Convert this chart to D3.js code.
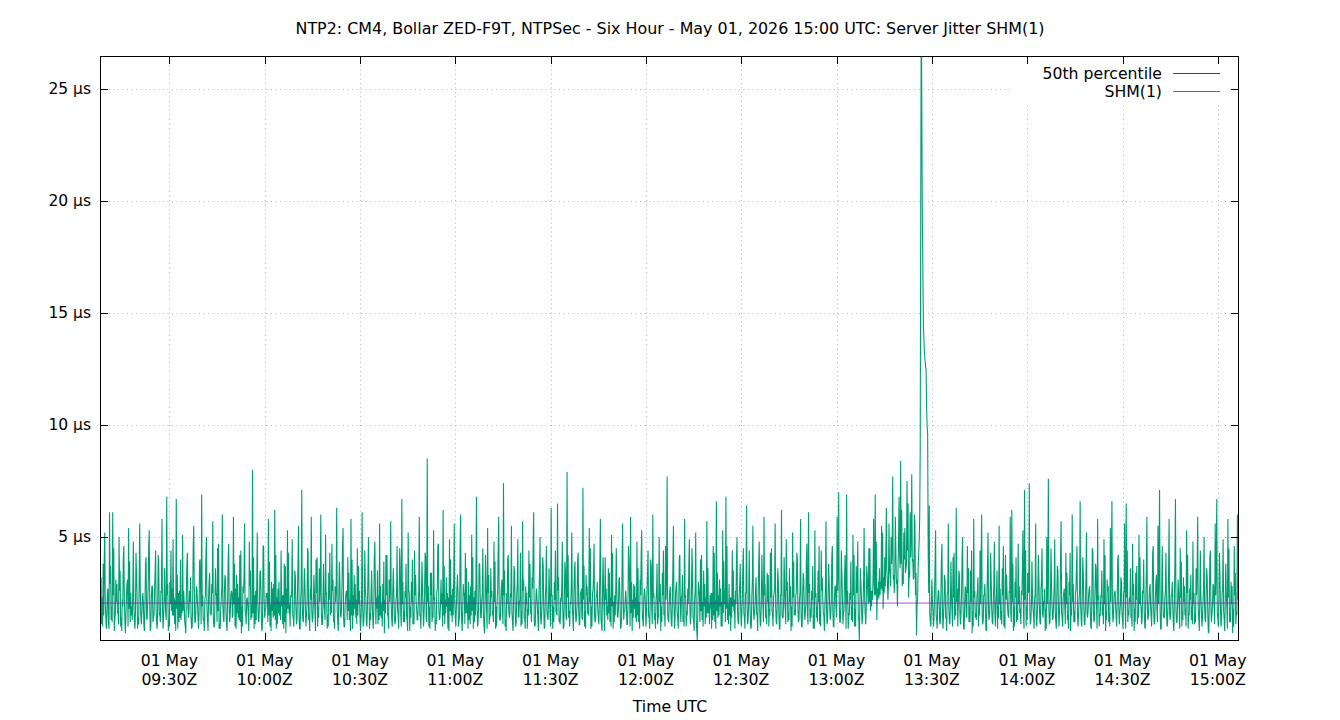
<!DOCTYPE html>
<html><head><meta charset="utf-8">
<script src="https://cdn.jsdelivr.net/npm/d3@7"></script>
<style>
html,body{margin:0;padding:0;background:#fff;}
svg{display:block;font-family:"DejaVu Sans",sans-serif;}
</style></head>
<body>
<svg id="c" width="1340" height="720"></svg>
<script>
// ---- data ----
const title = "NTP2: CM4, Bollar ZED-F9T, NTPSec - Six Hour - May 01, 2026 15:00 UTC: Server Jitter SHM(1)";
const startTime = "2026-05-01T09:08:10Z";
const stepSeconds = 30;          // spacing of the main samples
const percentile50 = 2.05;
const yTicks = [5, 10, 15, 20, 25];
const xTickTimes = ["09:30","10:00","10:30","11:00","11:30","12:00","12:30","13:00","13:30","14:00","14:30","15:00"];
const seriesNames = ["50th percentile", "SHM(1)"];
// samples on the 30 s grid (+0 s)
const jitter = [
2.4,1.1,3.8,5.2,0.9,2.7,6.1,1.3,6.1,0.8,3.1,1.6,5.0,1.0,2.2,4.6,0.7,2.9,5.4,1.2,
1.9,4.8,0.9,3.3,1.4,5.6,1.1,2.5,0.8,4.1,2.0,5.3,1.0,2.8,1.5,4.4,0.9,3.6,1.2,5.8,
1.4,2.3,6.8,0.8,3.0,1.7,4.9,1.1,6.7,0.9,2.6,1.3,5.1,2.1,0.7,4.3,1.6,3.2,1.0,5.5,
1.2,2.7,0.9,4.0,6.9,1.3,2.2,5.0,0.8,3.4,1.5,5.7,1.0,2.4,4.5,0.9,1.8,6.0,1.2,3.1,
0.8,4.7,1.6,2.5,5.9,1.0,3.3,1.4,4.2,0.7,2.8,5.6,1.1,2.0,4.8,1.3,8.0,0.9,2.6,5.2,
1.2,3.5,0.8,4.6,1.7,2.3,5.8,1.0,3.0,1.4,6.2,0.9,2.7,1.5,4.4,1.1,3.8,0.7,5.3,1.6,
2.4,4.9,1.0,3.2,1.3,5.5,0.9,7.1,1.2,2.9,1.6,4.3,0.8,5.9,1.4,2.5,4.0,1.0,3.6,6.0,
1.1,2.2,5.1,0.9,3.4,1.5,4.7,1.2,2.8,6.3,0.8,3.0,1.7,5.4,1.0,2.6,4.1,1.3,5.8,0.9,
3.3,1.4,4.5,2.0,0.8,6.1,1.2,2.7,1.0,5.0,1.6,3.5,0.9,4.8,2.3,1.1,5.6,1.4,2.9,0.7,
4.2,1.5,3.1,5.7,1.0,2.4,1.3,4.6,0.9,3.7,6.7,1.2,2.6,1.5,5.2,0.8,3.0,1.1,4.4,2.1,
1.3,5.9,0.9,2.8,1.6,4.1,8.5,1.0,3.4,1.2,5.3,0.8,2.5,4.7,1.4,2.0,6.2,1.1,3.2,0.9,
4.9,1.5,2.7,5.6,1.0,3.3,1.3,6.0,0.8,2.4,4.3,1.6,3.0,1.1,5.1,0.9,2.6,6.8,1.2,3.8,
1.4,4.5,0.7,2.9,5.4,1.1,3.6,1.5,4.8,0.9,2.2,5.9,1.3,3.1,7.4,1.0,2.5,4.2,1.6,5.5,
0.8,3.4,1.2,4.9,2.1,1.0,5.7,1.4,2.8,0.9,4.4,1.6,3.2,6.1,1.1,2.4,0.8,5.0,1.5,3.7,
1.0,4.6,1.3,2.6,6.3,0.9,3.0,1.7,6.5,1.2,2.3,4.8,1.0,3.5,7.9,1.4,2.1,5.2,0.8,3.9,
1.5,4.3,1.1,2.7,7.2,1.0,3.3,1.6,5.4,0.9,2.5,4.7,1.3,3.0,1.1,5.8,0.8,2.8,4.1,1.5,
3.6,1.2,5.1,0.9,2.4,4.5,1.4,3.2,1.0,5.6,1.7,2.6,1.1,4.0,5.9,0.8,2.9,1.4,4.8,1.2,
3.1,5.3,1.0,2.5,1.6,4.4,0.9,3.7,6.0,1.3,2.2,1.1,5.0,0.8,3.4,1.5,4.6,7.7,1.2,2.8,
1.0,5.5,1.4,3.0,0.9,4.2,2.3,1.2,5.8,1.0,2.7,4.9,1.5,3.3,0.8,5.2,0.4,2.6,4.0,1.3,
3.5,1.1,5.7,1.6,2.4,0.9,4.6,1.2,6.6,1.4,3.1,1.0,5.3,2.0,6.8,1.3,2.9,0.8,4.4,1.7,
2.6,5.0,1.1,3.8,1.5,4.5,0.9,6.4,1.3,2.5,1.0,5.5,1.6,3.2,0.8,4.8,1.2,2.8,5.9,1.4,
3.4,1.0,4.3,1.7,2.3,5.6,1.1,3.0,0.9,6.2,1.4,2.7,4.9,1.2,3.6,0.8,5.2,1.5,2.4,4.0,
1.3,5.8,1.0,3.1,1.6,4.7,6.1,1.2,2.6,0.9,5.3,1.4,3.5,1.1,4.4,2.2,0.8,5.7,1.3,3.0,
1.5,4.6,1.0,2.8,5.9,7.0,1.2,3.4,1.6,4.2,6.9,0.9,2.5,1.3,5.1,1.0,3.7,4.8,0.4,2.9,
1.4,5.4,1.1,3.2,4.5,1.7,2.6,5.8,6.9,1.3,3.0,2.4,5.5,1.8,4.1,6.3,2.2,3.6,5.0,7.7,
2.5,4.4,1.9,6.8,8.4,2.8,5.2,3.4,7.5,2.3,6.1,7.8,3.1,5.6,0.6,3.6,5.9,29.0,16.8,13.2,
12.5,9.6,6.4,1.0,2.2,1.4,5.3,0.9,2.6,1.2,4.7,1.5,3.0,0.8,5.6,1.1,2.4,4.1,1.3,6.3,
1.0,3.3,1.6,5.0,0.9,2.7,4.6,1.2,3.5,0.7,5.8,1.4,2.3,1.0,4.4,6.0,1.3,2.9,0.8,5.2,
1.5,3.1,1.1,4.8,2.0,0.9,5.5,1.3,3.6,1.0,4.2,2.5,1.4,5.9,6.2,0.8,3.0,1.2,4.7,1.6,
2.6,5.3,7.1,1.0,3.4,7.4,1.3,2.4,0.9,5.6,1.5,3.2,1.1,4.5,2.1,0.8,5.0,7.6,1.2,2.8,
1.4,4.9,0.9,3.5,1.6,5.7,1.0,2.7,4.3,1.3,3.0,0.8,6.0,1.2,2.5,4.6,1.5,6.6,1.0,3.3,
1.1,5.2,1.7,2.8,0.9,4.4,1.3,3.6,5.8,1.0,2.4,1.5,4.9,0.8,3.1,1.2,5.4,6.6,1.4,2.6,
1.0,4.2,1.6,3.0,0.9,5.6,6.5,1.2,2.3,1.4,4.7,0.8,3.4,1.1,5.1,2.0,1.3,4.0,0.9,5.9,
1.5,2.9,1.0,4.6,1.3,3.3,5.5,7.1,0.9,2.6,1.4,4.3,1.1,5.8,1.6,3.0,0.8,6.7,1.2,2.5,
4.5,1.0,3.2,1.5,5.3,0.9,2.7,1.3,4.8,1.1,3.6,5.9,0.8,2.4,1.4,5.0,1.2,3.1,0.7,4.4,
1.6,2.8,5.6,6.7,1.0,3.4,1.3,4.9,0.8,2.5,5.8,1.2,3.0,0.7,4.6,1.1,6.0,7.3
];
// samples 10 s after each of the above
const jitterA = [
1.8,2.3,1.5,2.0,1.6,1.2,2.9,1.9,2.4,1.3,2.1,1.7,2.6,1.4,1.9,2.2,1.5,3.1,1.8,2.5,
1.3,2.0,1.7,2.4,1.1,2.7,1.6,1.9,2.2,1.4,2.8,1.8,2.3,1.2,2.5,1.7,2.0,1.5,2.6,1.9,
2.2,1.6,2.4,1.3,2.0,2.7,1.5,2.2,1.8,2.5,1.4,2.1,1.7,1.2,2.3,1.9,2.6,1.4,2.0,2.8,
1.7,2.1,1.5,2.6,1.9,1.3,2.4,1.8,2.2,1.6,2.9,1.4,2.0,2.5,1.7,1.1,2.3,1.9,2.6,1.5,
2.1,1.8,2.4,1.4,2.0,2.7,1.6,2.3,1.2,1.9,2.5,1.7,2.2,1.5,2.8,2.0,1.6,2.4,1.3,2.1,
1.9,2.6,1.4,2.2,1.8,2.5,1.5,2.0,1.7,2.9,1.3,2.3,1.6,2.1,1.9,2.4,1.2,2.7,1.8,2.0,
2.3,1.5,2.1,1.8,2.6,1.4,2.2,1.9,2.4,1.6,2.0,1.3,2.7,1.7,2.2,1.5,2.5,1.9,2.1,1.6,
2.0,1.7,2.4,1.5,2.2,1.9,2.6,1.3,2.1,1.8,2.3,1.6,2.8,1.4,2.0,2.5,1.7,2.2,1.5,2.4,
1.8,2.2,1.5,2.6,1.4,2.0,1.7,2.3,1.9,2.5,1.3,2.1,1.6,2.8,1.8,2.4,1.5,2.0,1.7,2.2,
2.4,1.6,2.1,1.9,2.7,1.4,2.2,1.8,2.5,1.5,2.0,1.7,2.3,1.3,2.6,1.9,2.1,1.6,2.4,1.8,
2.0,1.5,2.3,1.8,2.6,1.4,2.1,1.9,2.4,1.6,2.2,1.3,2.7,1.7,2.0,2.5,1.5,2.2,1.9,2.3,
1.7,2.4,1.5,2.1,1.9,2.6,1.4,2.2,1.8,2.5,1.6,2.0,1.3,2.8,1.7,2.3,1.5,2.1,1.9,2.4,
2.2,1.6,2.0,1.8,2.5,1.4,2.3,1.7,2.1,1.9,2.6,1.5,2.2,1.8,2.4,1.3,2.0,1.7,2.5,1.6,
2.1,1.9,2.4,1.5,2.2,1.7,2.6,1.4,2.0,1.8,2.3,1.6,2.7,1.3,2.1,1.9,2.5,1.5,2.2,1.8,
2.3,1.7,2.0,1.5,2.4,1.9,2.2,1.6,2.6,1.4,2.1,1.8,2.5,1.5,2.3,1.7,2.0,1.9,2.4,1.6,
2.0,1.8,2.5,1.4,2.2,1.7,2.4,1.6,2.1,1.9,2.6,1.5,2.3,1.8,2.0,1.4,2.5,1.7,2.2,1.9,
1.6,2.3,1.9,2.1,1.5,2.6,1.8,2.2,1.4,2.4,1.7,2.0,1.9,2.5,1.6,2.2,1.8,2.3,1.5,2.1,
2.4,1.7,2.2,1.9,2.6,1.5,2.0,1.8,2.3,1.6,2.5,1.4,2.1,1.9,2.4,1.7,2.2,1.6,2.0,1.8,
2.2,1.9,2.5,1.6,2.1,1.8,2.4,1.5,2.3,1.7,2.0,1.9,2.6,1.4,2.2,1.3,1.8,2.4,1.7,2.1,
1.9,2.3,1.6,2.0,1.8,2.5,1.5,2.2,1.7,2.4,1.9,2.1,1.6,2.6,1.8,2.0,1.5,2.3,1.9,2.2,
2.0,1.7,2.4,1.8,2.2,1.6,2.5,1.9,2.1,1.5,2.3,1.8,2.0,1.6,2.6,1.7,2.2,1.9,2.4,1.5,
2.1,1.8,2.3,1.6,2.5,1.9,2.2,1.7,2.4,1.5,2.0,1.8,2.6,1.6,2.1,1.9,2.3,1.7,2.5,1.8,
2.2,1.6,2.4,1.9,2.0,1.7,2.5,1.8,2.2,1.5,2.3,1.9,2.1,1.7,2.6,1.6,2.0,1.8,2.4,1.9,
2.1,1.7,2.3,1.8,2.6,2.2,1.9,2.4,1.7,2.5,2.0,1.6,2.2,1.9,2.4,1.8,2.6,1.5,1.9,2.3,
2.0,2.3,1.8,2.5,2.1,2.6,2.2,2.9,2.4,2.7,2.3,3.0,2.6,3.2,2.8,3.5,2.9,3.3,3.8,3.1,
3.4,2.9,3.6,4.2,3.8,3.3,4.0,3.6,4.4,3.5,4.1,3.9,3.2,2.4,2.0,4.2,9.0,24.0,14.5,12.9,
10.8,4.5,1.6,1.9,1.7,2.3,1.5,2.1,1.8,2.4,1.6,2.2,1.4,2.5,1.9,2.0,1.7,2.3,1.8,2.1,
2.2,1.6,2.4,1.8,2.0,1.5,2.5,1.9,2.1,1.7,2.3,1.6,2.6,1.8,2.0,1.5,2.4,1.9,2.2,1.7,
2.3,1.8,2.1,1.6,2.5,1.9,2.0,1.7,2.4,1.5,2.2,1.8,2.6,1.6,2.1,1.9,2.3,1.7,2.0,1.8,
2.4,1.6,2.2,1.9,2.5,1.7,2.0,1.8,2.3,1.5,2.1,1.9,2.6,1.6,2.2,1.8,2.0,1.7,2.4,1.9,
2.1,1.7,2.5,1.8,2.2,1.6,2.3,1.9,2.0,1.5,2.4,1.8,2.1,1.7,2.6,1.6,2.2,1.9,2.3,1.8,
2.0,1.6,2.4,1.9,2.1,1.7,2.5,1.8,2.2,1.5,2.3,1.9,2.0,1.7,2.6,1.6,2.1,1.8,2.4,1.9,
2.2,1.8,2.0,1.6,2.5,1.9,2.3,1.7,2.1,1.5,2.4,1.8,2.2,1.6,2.0,1.9,2.6,1.7,2.3,1.8,
2.1,1.9,2.4,1.6,2.2,1.8,2.0,1.7,2.5,1.5,2.3,1.9,2.1,1.6,2.4,1.8,2.2,1.7,2.0,1.9,
2.3,1.7,2.1,1.8,2.5,1.6,2.2,1.9,2.0,1.5,2.4,1.8,2.3,1.6,2.1,1.9,2.6,1.7,2.2,1.8,
2.0,1.9,2.4,1.6,2.2,1.8,2.5,1.7,2.1,1.9,2.3,1.6,2.0,1.8,2.4,1.7,2.2
];
// samples 20 s after each main sample
const jitterB = [
3.2,1.0,4.1,1.4,2.6,0.9,3.7,1.2,4.5,1.6,2.9,1.1,3.5,0.8,4.0,1.3,2.4,1.0,3.9,1.5,
2.7,1.2,4.3,0.9,3.1,1.5,2.2,1.0,3.8,1.3,4.6,0.8,2.8,1.4,3.4,1.1,4.2,1.6,2.5,0.9,
3.6,1.3,2.9,1.0,4.4,1.5,2.3,0.8,3.3,1.2,4.0,1.6,2.6,1.0,3.7,1.4,2.1,0.9,4.5,1.2,
2.8,1.5,3.9,1.1,2.4,0.8,4.2,1.3,3.0,1.6,2.5,1.0,3.6,1.2,4.7,0.9,2.7,1.4,3.3,1.1,
4.0,1.2,2.6,1.5,3.8,0.9,2.9,1.3,4.4,1.0,3.2,1.6,2.3,0.8,3.5,1.4,4.1,1.1,2.8,1.3,
3.4,1.0,4.6,1.4,2.5,1.2,3.9,0.8,2.7,1.5,4.2,1.1,3.0,1.3,2.4,0.9,3.7,1.6,4.3,1.0,
2.6,1.4,3.5,1.1,4.0,0.9,2.8,1.3,3.6,1.0,4.5,1.5,2.2,1.2,3.3,0.8,4.1,1.4,2.9,1.1,
3.8,1.3,2.5,1.0,4.3,1.6,3.1,0.9,2.7,1.2,3.9,1.4,4.6,1.0,2.4,1.3,3.4,0.8,4.0,1.5,
2.9,1.1,3.7,1.4,2.3,1.0,4.4,1.2,3.2,0.9,2.6,1.5,4.1,1.1,3.5,1.3,2.8,1.0,3.9,1.6,
4.2,0.9,2.7,1.3,3.6,1.1,2.4,1.5,4.5,1.0,3.0,1.2,3.8,0.8,2.5,1.4,4.0,1.1,3.3,1.3,
2.6,1.5,3.9,1.0,4.3,1.2,2.8,0.9,3.4,1.4,2.3,1.1,4.6,1.3,3.1,1.0,3.7,1.6,2.5,0.8,
4.0,1.2,3.2,1.4,2.7,1.0,4.4,1.3,2.9,1.1,3.6,0.9,2.4,1.5,4.1,1.2,3.0,1.0,3.8,1.4,
2.5,1.1,4.2,0.9,3.3,1.5,2.6,1.2,3.9,1.0,4.5,1.3,2.8,1.1,3.5,0.8,4.0,1.4,2.3,1.2,
3.7,1.0,2.9,1.4,4.3,1.1,3.1,0.9,2.5,1.5,3.8,1.2,4.6,1.0,2.7,1.3,3.4,1.1,4.1,0.9,
2.8,1.4,3.6,1.0,2.4,1.2,4.4,1.5,3.2,1.1,2.6,0.9,3.9,1.3,4.2,1.0,2.9,1.4,3.5,1.2,
4.0,1.1,2.5,1.3,3.7,0.9,2.8,1.5,4.5,1.0,3.3,1.2,2.4,1.4,3.8,1.1,4.1,0.8,2.7,1.3,
3.4,1.0,4.3,1.2,2.6,1.5,3.1,0.9,3.9,1.3,2.3,1.1,4.6,1.0,3.0,1.4,2.8,1.2,3.6,0.9,
4.2,1.3,2.7,1.0,3.5,1.4,4.0,1.1,2.5,0.9,3.8,1.5,2.9,1.2,4.4,1.0,3.2,1.3,2.6,1.1,
3.9,0.9,2.8,1.4,4.1,1.2,3.3,1.0,2.4,1.5,3.7,1.1,4.5,1.3,2.6,0.8,3.0,1.2,4.2,1.0,
2.9,1.4,3.6,1.1,2.5,1.3,4.3,0.9,3.4,1.5,2.7,1.0,3.9,1.2,4.6,1.1,2.3,1.4,3.5,0.9,
4.0,1.2,2.8,1.0,3.7,1.4,2.5,1.1,4.4,0.9,3.1,1.3,2.6,1.5,3.8,1.0,4.2,1.2,2.9,1.1,
3.3,1.5,4.5,1.0,2.7,1.2,3.6,0.9,2.4,1.4,4.1,1.1,3.0,1.3,2.8,1.0,3.9,1.5,4.3,1.2,
2.6,1.0,3.4,1.3,4.0,1.1,2.9,1.4,3.7,0.9,2.5,1.2,4.6,1.0,3.2,1.5,2.7,1.1,3.8,1.3,
4.1,1.0,2.8,1.4,3.5,1.2,4.4,1.1,3.0,0.9,2.6,1.5,3.9,1.2,4.2,1.0,2.5,1.3,3.6,1.1,
2.9,1.6,3.7,2.0,4.5,1.9,3.3,2.4,4.8,2.2,3.6,2.7,5.2,2.5,4.1,3.0,5.6,2.8,4.4,3.3,
5.9,3.1,4.7,3.6,6.2,2.9,5.4,3.8,6.5,3.2,5.0,4.0,6.0,3.4,2.2,4.8,20.0,19.0,13.8,12.6,
10.0,2.5,1.2,3.1,1.0,3.8,1.3,2.6,1.1,4.0,0.9,3.3,1.4,2.5,1.2,3.9,1.0,4.3,1.5,2.7,
3.5,1.1,4.1,0.9,2.8,1.4,3.6,1.2,4.4,1.0,2.6,1.3,3.2,1.5,4.0,1.1,2.4,0.9,3.7,1.3,
4.3,1.2,2.9,1.0,3.5,1.4,2.7,1.1,4.6,0.9,3.3,1.5,2.5,1.2,3.8,1.0,4.1,1.3,2.8,1.1,
3.6,0.9,4.4,1.3,2.6,1.1,3.9,1.5,2.4,1.0,4.2,1.2,3.1,1.4,2.7,0.9,3.5,1.1,4.5,1.3,
2.8,1.2,3.7,1.0,4.0,1.4,2.5,1.1,3.4,0.9,4.3,1.5,2.9,1.2,3.6,1.0,2.6,1.3,4.1,1.1,
3.3,1.4,2.7,1.0,4.5,1.2,3.8,0.9,2.4,1.5,3.5,1.1,4.2,1.3,2.8,1.0,3.9,1.2,2.5,1.4,
4.0,1.1,3.2,1.3,2.6,0.9,4.4,1.5,3.6,1.0,2.9,1.2,3.7,1.4,4.1,1.1,2.5,1.0,3.4,1.3,
2.7,1.5,4.3,1.1,3.0,1.2,3.8,0.9,4.6,1.4,2.6,1.0,3.5,1.3,2.4,1.1,4.0,1.2,3.1,0.9,
3.9,1.3,2.8,1.0,4.2,1.5,3.3,1.1,2.5,1.2,3.7,1.4,4.4,1.0,2.7,1.3,3.6,0.8,4.1,1.2,
2.9,1.1,3.5,1.4,4.3,1.0,2.6,1.3,3.8,0.9,4.5,1.2,2.8,1.0,3.4,1.5,4.0
];
const yDomain = [0.357, 26.47];

// ---- drawing ----
const L = 100, R = 1239, T = 56, B = 641;
const svg = d3.select("#c");
const t0 = new Date(startTime).getTime();
const ms = stepSeconds * 1000;
const data = [];
jitter.forEach((v, i) => {
  data.push({t: new Date(t0 + i * ms), v});
  if (i < jitterA.length) data.push({t: new Date(t0 + i * ms + ms / 3), v: jitterA[i]});
  if (i < jitterB.length) data.push({t: new Date(t0 + i * ms + 2 * ms / 3), v: jitterB[i]});
});
const x = d3.scaleUtc().domain([data[0].t, data[data.length - 1].t]).range([L, R]);
const y = d3.scaleLinear().domain(yDomain).range([B, T]);
const tickDates = xTickTimes.map(s => new Date("2026-05-01T" + s + ":00Z"));

const green = "#009e73", purple = "#9400d3";

svg.append("defs").append("clipPath").attr("id", "clip")
  .append("rect").attr("x", L).attr("y", T).attr("width", R - L).attr("height", B - T);

// grid
const grid = svg.append("g").attr("stroke", "#b8b8b8").attr("stroke-width", 1).attr("stroke-dasharray", "1 3.5");
grid.selectAll("line.gy").data(yTicks).join("line")
  .attr("x1", L).attr("x2", R).attr("y1", d => Math.round(y(d)) + 0.5).attr("y2", d => Math.round(y(d)) + 0.5);
grid.selectAll("line.gx").data(tickDates).join("line")
  .attr("y1", T).attr("y2", B).attr("x1", d => Math.round(x(d)) + 0.5).attr("x2", d => Math.round(x(d)) + 0.5);

// legend background box hides the grid
svg.append("rect").attr("x", 1012).attr("y", T + 1).attr("width", 218).attr("height", 46).attr("fill", "#fff");

const plot = svg.append("g").attr("clip-path", "url(#clip)");
const line = d3.line().x(d => x(d.t)).y(d => y(d.v));
plot.append("path").datum(data).attr("d", line)
  .attr("fill", "none").attr("stroke", green).attr("stroke-width", 1.1).attr("stroke-linejoin", "miter");
plot.append("line").attr("x1", L).attr("x2", R)
  .attr("y1", y(percentile50)).attr("y2", y(percentile50))
  .attr("stroke", purple).attr("stroke-width", 1).attr("opacity", 0.7);

// border
svg.append("rect").attr("x", L + 0.5).attr("y", T + 0.5).attr("width", R - L - 1).attr("height", B - T - 1)
  .attr("fill", "none").attr("stroke", "#000").attr("stroke-width", 1);

// ticks (mirrored, inward)
const tk = svg.append("g").attr("stroke", "#000").attr("stroke-width", 1);
yTicks.forEach(d => {
  const yy = Math.round(y(d)) + 0.5;
  tk.append("line").attr("x1", L).attr("x2", L + 8).attr("y1", yy).attr("y2", yy);
  tk.append("line").attr("x1", R - 8).attr("x2", R).attr("y1", yy).attr("y2", yy);
});
tickDates.forEach(d => {
  const xx = Math.round(x(d)) + 0.5;
  tk.append("line").attr("x1", xx).attr("x2", xx).attr("y1", B).attr("y2", B - 8);
  tk.append("line").attr("x1", xx).attr("x2", xx).attr("y1", T).attr("y2", T + 8);
});

// labels
const fs = 15.7;
svg.append("g").selectAll("text").data(yTicks).join("text")
  .attr("x", 91).attr("y", d => y(d) + 5.5).attr("text-anchor", "end")
  .attr("font-size", 15.5).attr("fill", "#000").text(d => d + " µs");
const fDay = d3.utcFormat("%d %b"), fHM = d3.utcFormat("%H:%MZ");
const xl = svg.append("g").attr("font-size", fs).attr("fill", "#000").attr("text-anchor", "middle");
tickDates.forEach(d => {
  xl.append("text").attr("x", x(d)).attr("y", 666).text(fDay(d));
  xl.append("text").attr("x", x(d)).attr("y", 685).text(fHM(d));
});
svg.append("text").attr("x", 670).attr("y", 712).attr("text-anchor", "middle")
  .attr("font-size", fs).text("Time UTC");
svg.append("text").attr("x", 670).attr("y", 34).attr("text-anchor", "middle")
  .attr("font-size", 15.9).text(title);

// legend
const lg = svg.append("g").attr("font-size", fs);
[[seriesNames[0], purple, 73.5], [seriesNames[1], green, 91.5]].forEach(([n, c, yy]) => {
  lg.append("text").attr("x", 1162).attr("y", yy + 5.5).attr("text-anchor", "end").text(n);
  lg.append("line").attr("x1", 1173).attr("x2", 1220).attr("y1", yy).attr("y2", yy).attr("stroke", c).attr("stroke-width", 1);
});
</script>
</body></html>
